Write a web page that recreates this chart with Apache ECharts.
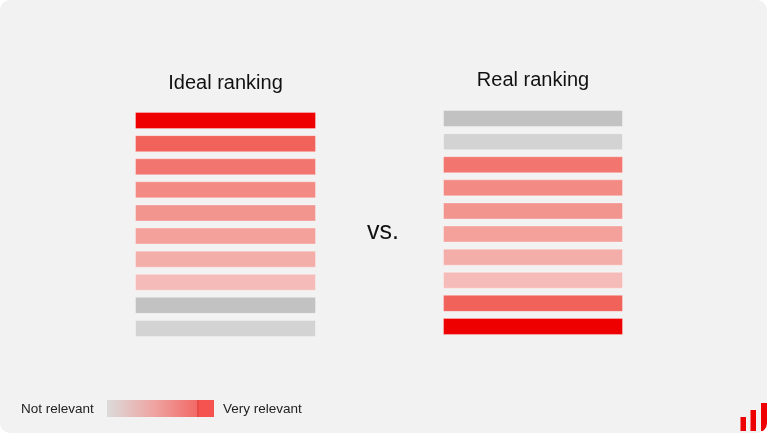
<!DOCTYPE html>
<html>
<head>
<meta charset="utf-8">
<script src="https://cdn.jsdelivr.net/npm/echarts@6/dist/echarts.min.js"></script>
<style>
  html, body { margin:0; padding:0; background:#ffffff; }
  #chart { width:767px; height:433px; background:#f2f2f2; border-radius:10px; overflow:hidden; }
</style>
</head>
<body>
<div id="chart"></div>
<script>
// Rank positions (1 = top)
const positions = ['1','2','3','4','5','6','7','8','9','10'];
// Relevance score of each result, top to bottom
const idealRelevance = [10, 9, 8, 7, 6, 5, 4, 3, 2, 1];
const realRelevance  = [2, 1, 8, 7, 6, 5, 4, 3, 9, 10];
// Colour for each relevance score
const relevanceColors = {
  10: '#ee0000', 9: '#f0625a', 8: '#f2766f', 7: '#f38a84', 6: '#f3958f',
  5: '#f4a19c', 4: '#f4aeaa', 3: '#f5bbb8', 2: '#c2c2c2', 1: '#d3d3d3'
};
const titles = ['Ideal ranking', 'Real ranking'];
const legendLabels = ['Not relevant', 'Very relevant'];

const FONT = '"Liberation Sans", Arial, Helvetica, sans-serif';

function barData(rel) {
  return rel.map(r => ({
    value: 1,
    itemStyle: { color: relevanceColors[r] }
  }));
}

const chart = echarts.init(document.getElementById('chart'), null, { renderer: 'canvas' });

const grids = [
  { left: 135, width: 181, top: 109, height: 231 },
  { left: 443, width: 180, top: 107, height: 231 }
];

const option = {
  backgroundColor: 'transparent',
  animation: false,
  grid: grids,
  xAxis: grids.map((g, i) => ({ type: 'value', gridIndex: i, min: 0, max: 1, show: false })),
  yAxis: grids.map((g, i) => ({ type: 'category', gridIndex: i, data: positions, inverse: true, show: false })),
  series: [idealRelevance, realRelevance].map((rel, i) => ({
    type: 'bar',
    xAxisIndex: i,
    yAxisIndex: i,
    barWidth: 17,
    data: barData(rel),
    itemStyle: { borderColor: 'rgba(255,255,255,0.3)', borderWidth: 1 },
    silent: true
  })),
  graphic: [
    { type: 'text', x: 225.5, y: 83, style: { text: titles[0], fill: '#111', font: '20px ' + FONT, textAlign: 'center', textVerticalAlign: 'middle' } },
    { type: 'text', x: 533, y: 80, style: { text: titles[1], fill: '#111', font: '20px ' + FONT, textAlign: 'center', textVerticalAlign: 'middle' } },
    { type: 'text', x: 383, y: 232, style: { text: 'vs.', fill: '#111', font: '25px ' + FONT, textAlign: 'center', textVerticalAlign: 'middle' } },
    // legend
    { type: 'text', x: 21, y: 409, style: { text: legendLabels[0], fill: '#222', font: '13.5px ' + FONT, textAlign: 'left', textVerticalAlign: 'middle' } },
    { type: 'rect', shape: { x: 107, y: 400, width: 91, height: 17 },
      style: { fill: new echarts.graphic.LinearGradient(0, 0, 1, 0, [
        { offset: 0, color: '#dbdbdb' },
        { offset: 0.5, color: '#eea6a4' },
        { offset: 1, color: '#f26865' }
      ]) } },
    { type: 'rect', shape: { x: 197, y: 400, width: 2, height: 17 }, style: { fill: '#e54a47' } },
    { type: 'rect', shape: { x: 199, y: 400, width: 15, height: 17 }, style: { fill: '#f5534f' } },
    { type: 'text', x: 223, y: 409, style: { text: legendLabels[1], fill: '#222', font: '13.5px ' + FONT, textAlign: 'left', textVerticalAlign: 'middle' } },
    // logo
    { type: 'rect', shape: { x: 740.5, y: 417, width: 5.5, height: 14 }, style: { fill: '#ee0000' } },
    { type: 'rect', shape: { x: 750.5, y: 410, width: 5.5, height: 21 }, style: { fill: '#ee0000' } },
    { type: 'rect', shape: { x: 761, y: 403, width: 6, height: 28 }, style: { fill: '#ee0000' } }
  ]
};

chart.setOption(option);
</script>
</body>
</html>
